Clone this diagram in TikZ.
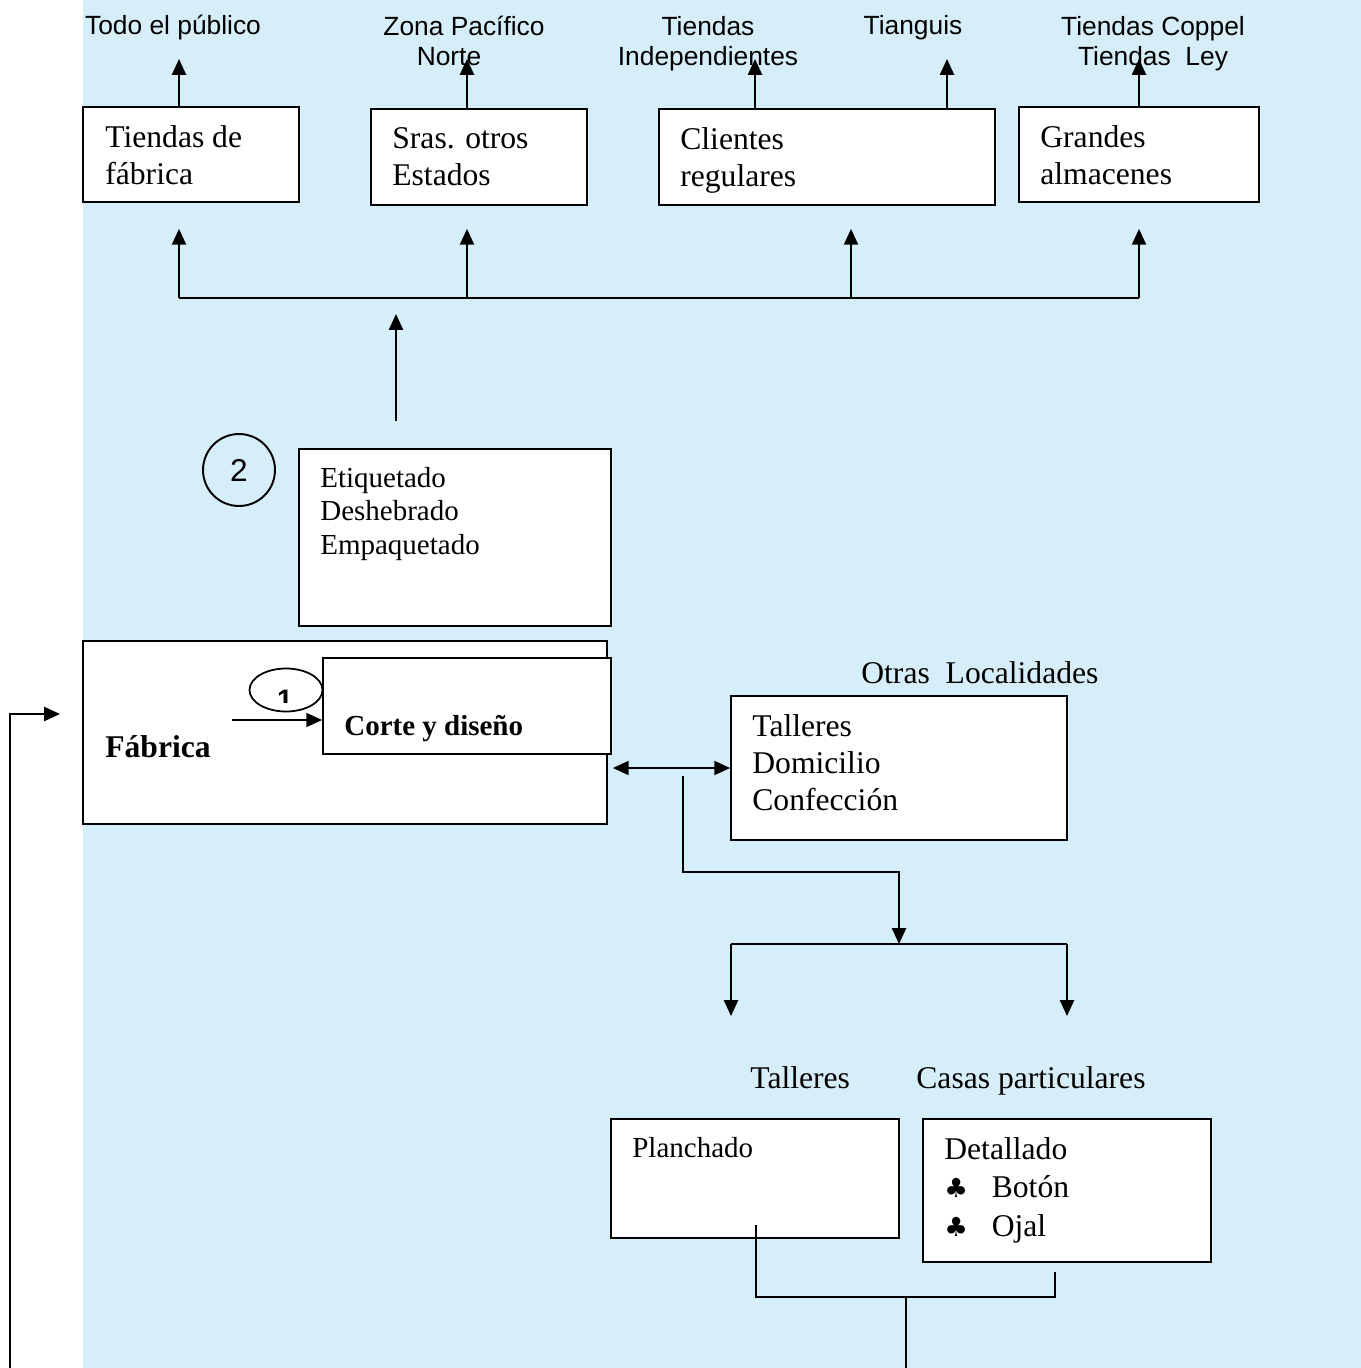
\documentclass[tikz,border=0pt]{standalone}
\usepackage{fontspec}
\setmainfont{Liberation Serif}
\newfontfamily\arialfont{Liberation Sans}
\newfontfamily\symfont{DejaVu Sans}
\usepackage{tikz}
\usetikzlibrary{arrows.meta,shapes.geometric,fit}

\definecolor{posterblue}{RGB}{214,238,250}

\tikzset{
  box/.style={draw, fill=white, inner sep=0pt, line width=1pt},
  txt/.style={anchor=north west, inner sep=0pt, align=left, font=\fontsize{18}{21}\selectfont},
  small/.style={font=\fontsize{16.5}{19}\selectfont},
  lbl/.style={inner sep=0pt, align=center, font=\arialfont\fontsize{15}{17}\selectfont},
  arr/.style={line width=1pt, -{Triangle[length=9pt,width=8pt]}},
  lin/.style={line width=1pt}
}

\begin{document}
\begin{tikzpicture}[x=0.02cm, y=-0.02cm]
    \useasboundingbox (0,0) rectangle (1361,1368);
    \fill[posterblue] (83,0) rectangle (1361,1368);

    \node[box, fit={(83,107) (299,202)}] (fab) {};
    \node[box, fit={(371,109) (587,205)}] (sras) {};
    \node[box, fit={(659,109) (995,205)}] (cli) {};
    \node[box, fit={(1019,107) (1259,202)}] (gra) {};
    \node[txt] (fabt) at (105,125) {Tiendas de\\fábrica};
    \node[txt] (srast) at (392,127) {Sras. otros\\Estados};
    \node[txt] (clit) at (680,127) {Clientes\\regulares};
    \node[txt] (grat) at (1040,125) {Grandes\\almacenes};

    \node[lbl, anchor=base] (todo) at (173,35) {Todo el público};
    \node[lbl, anchor=north] (zona) at (464,16) {Zona Pacífico\\Norte\hspace*{0.6cm}};
    \node[lbl, anchor=north] (indep) at (708,16) {Tiendas\\Independientes};
    \node[lbl, anchor=base] (tiang) at (913,35) {Tianguis};
    \node[lbl, anchor=north] (coppel) at (1153,16) {Tiendas Coppel\\Tiendas\ \ Ley};

    \coordinate (t1) at (179,59);
    \coordinate (t2) at (467,59);
    \coordinate (t3) at (755,59);
    \coordinate (t4) at (947,59);
    \coordinate (t5) at (1139,59);
    \draw[arr] (fab.north -| t1) -- (t1);
    \draw[arr] (sras.north -| t2) -- (t2);
    \draw[arr] (cli.north -| t3) -- (t3);
    \draw[arr] (cli.north -| t4) -- (t4);
    \draw[arr] (gra.north -| t5) -- (t5);

    \coordinate (b1) at (179,298);
    \coordinate (b2) at (467,298);
    \coordinate (b3) at (851,298);
    \coordinate (b4) at (1139,298);
    \draw[lin] (b1) -- (b4);
    \draw[arr, shorten >=0.52cm] (b1) -- (fab.south -| b1);
    \draw[arr, shorten >=0.46cm] (b2) -- (sras.south -| b2);
    \draw[arr, shorten >=0.46cm] (b3) -- (cli.south -| b3);
    \draw[arr, shorten >=0.52cm] (b4) -- (gra.south -| b4);

    \node[box, fit={(299,449) (611,626)}] (eti) {};
    \node[txt, small] (etit) at (320,467) {Etiquetado\\Deshebrado\\Empaquetado};
    \node[draw, circle, line width=1.1pt, minimum size=1.44cm, inner sep=0pt,
      font=\arialfont\fontsize{18}{18}\selectfont] (dos) at (239,470) {2};
    \coordinate (e1) at (396,314);
    \draw[arr, shorten <=0.54cm] (eti.north -| e1) -- (e1);

    \node[box, fit={(83,641) (607,824)}] (fabrica) {};
    \node[box, fit={(323,658) (611,754)}] (corte) {};
    \node[anchor=base west, inner sep=0pt, font=\bfseries\fontsize{18}{21}\selectfont] (fabricat) at (105,757) {Fábrica};
    \node[anchor=base west, inner sep=0pt, font=\bfseries\fontsize{16.5}{19}\selectfont] (cortet) at (344,735) {Corte y diseño};
    \node[draw, ellipse, line width=1pt, minimum width=1.46cm, minimum height=0.86cm, inner sep=0pt] (uno) at (286,690) {};
    \begin{scope}
      \clip (250,668) rectangle (323,702);
      \node[anchor=base, inner sep=0pt, font=\arialfont\bfseries\fontsize{16}{16}\selectfont] (unot) at (285,709) {1};
    \end{scope}
    \coordinate (f1) at (232,720);
    \draw[arr] (f1) -- (f1 -| corte.west);

    \node[box, fit={(731,696) (1067,840)}] (tal) {};
    \node[txt] (talt) at (752,714) {Talleres\\Domicilio\\Confección};
    \node[anchor=base west, inner sep=0pt, font=\fontsize{18}{21}\selectfont] (otras) at (861,683) {Otras\ \ Localidades};
    \coordinate (d1) at (0,768);
    \draw[line width=1pt, {Triangle[length=9pt,width=8pt]}-{Triangle[length=9pt,width=8pt]}]
      ([xshift=0.1cm]fabrica.east |- d1) -- (tal.west |- d1);

    \coordinate (s1) at (683,776);
    \coordinate (s2) at (899,872);
    \coordinate (j1) at (899,944);
    \coordinate (j2) at (731,944);
    \coordinate (j3) at (1067,944);
    \draw[arr] (s1) |- (s2) -- (j1);
    \draw[lin] (j2) -- (j3);
    \draw[arr] (j2) -- ++(0,72);
    \draw[arr] (j3) -- ++(0,72);

    \node[anchor=base west, inner sep=0pt, font=\fontsize{18}{21}\selectfont] (tallab) at (750,1088) {Talleres};
    \node[anchor=base west, inner sep=0pt, font=\fontsize{18}{21}\selectfont] (casas) at (916,1088) {Casas particulares};

    \node[box, fit={(611,1119) (899,1238)}] (pla) {};
    \node[box, fit={(923,1119) (1211,1262)}] (det) {};
    \node[anchor=base west, inner sep=0pt, font=\fontsize{16.5}{19}\selectfont] (plat) at (632,1157) {Planchado};
    \node[txt, font=\fontsize{18}{22}\selectfont] (dett) at (944,1137)
      {Detallado\\\makebox[1.5em][l]{\symfont\fontsize{15}{15}\selectfont ♣}Botón\\\makebox[1.5em][l]{\symfont\fontsize{15}{15}\selectfont ♣}Ojal};

    \coordinate (k1) at (756,1225);
    \coordinate (k2) at (1055,1272);
    \coordinate (k3) at (906,1297);
    \coordinate (k4) at (906,1368);
    \draw[lin] (k1) |- (k2 |- k3) -- (k2);
    \draw[lin] (k3) -- (k4);

    \coordinate (l1) at (10,1368);
    \coordinate (l2) at (60,714);
    \draw[arr] (l1) |- (l2);
\end{tikzpicture}
\end{document}
